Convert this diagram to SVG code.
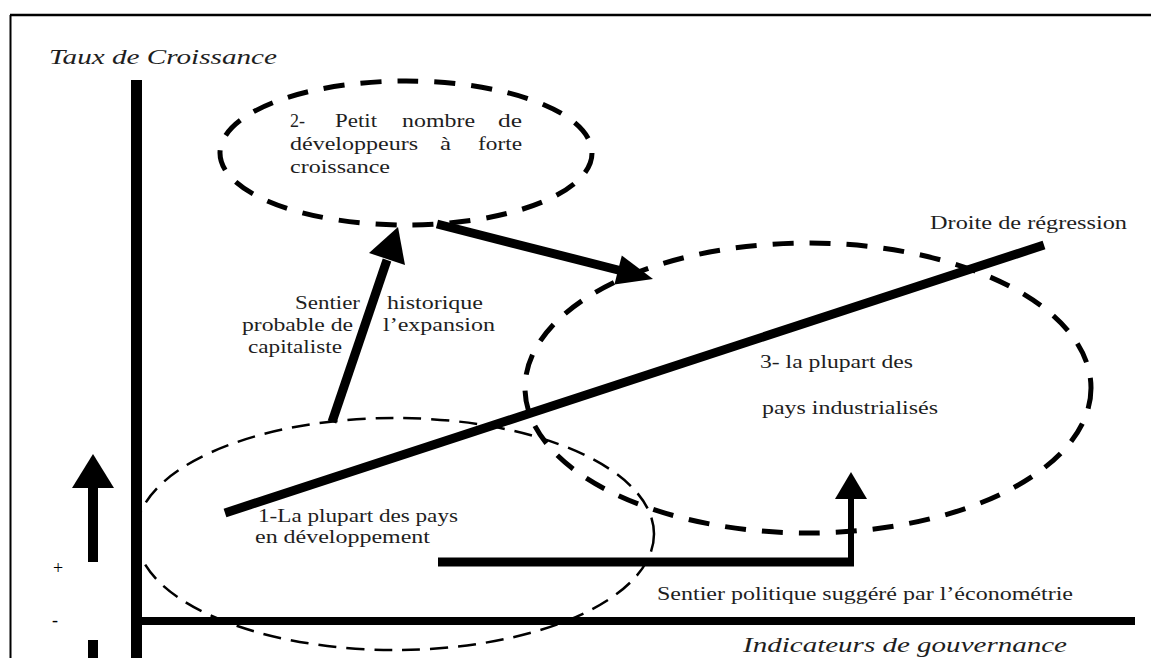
<svg xmlns="http://www.w3.org/2000/svg" width="1151" height="658" viewBox="0 0 1151 658">
<style>
.t{font-size:19px;fill:#1e1e1e}
.ti{font-size:21px;font-style:italic;fill:#1e1e1e}
.thick{fill:none;stroke:#000;stroke-width:5;stroke-dasharray:21 16}
.thin{fill:none;stroke:#000;stroke-width:2.5;stroke-dasharray:18 10}
.bar{stroke:#000;fill:none;stroke-linecap:butt}
.head{fill:#000}
</style>
<rect width="1151" height="658" fill="#fff"/>
<g font-family="Liberation Serif, DejaVu Serif, serif">
<g id="frame">
<line x1="10" y1="15" x2="1151" y2="15" stroke="#000" stroke-width="2.5"/>
<line x1="10.5" y1="15" x2="10.5" y2="658" stroke="#000" stroke-width="2"/>
</g>
<g id="axes">
<rect x="131" y="80" width="11" height="578" fill="#000"/>
<rect x="137" y="617" width="998" height="8" fill="#000"/>
<text class="ti" x="49" y="64" textLength="228" lengthAdjust="spacingAndGlyphs">Taux de Croissance</text>
<text class="ti" x="743" y="652" textLength="324" lengthAdjust="spacingAndGlyphs">Indicateurs de gouvernance</text>
</g>
<g id="scale">
<rect x="88" y="486" width="10" height="76" fill="#000"/>
<polygon class="head" points="93,454 114,488 72,488"/>
<rect x="88" y="640" width="10" height="18" fill="#000"/>
<text x="58" y="574" text-anchor="middle" font-size="18" fill="#000">+</text>
<text x="55" y="626" text-anchor="middle" font-size="18" fill="#000">-</text>
</g>
<g id="node1">
<ellipse class="thin" cx="395" cy="534" rx="259" ry="116"/>
<text class="t" x="258" y="522" textLength="200" lengthAdjust="spacingAndGlyphs">1-La plupart des pays</text>
<text class="t" x="255" y="543" textLength="175" lengthAdjust="spacingAndGlyphs">en développement</text>
</g>
<g id="node2">
<ellipse class="thick" cx="406" cy="153" rx="186" ry="72"/>
<text class="t" x="290" y="127" textLength="15" lengthAdjust="spacingAndGlyphs">2-</text>
<text class="t" x="335" y="127" textLength="42" lengthAdjust="spacingAndGlyphs">Petit</text>
<text class="t" x="402" y="127" textLength="73" lengthAdjust="spacingAndGlyphs">nombre</text>
<text class="t" x="498" y="127" textLength="24" lengthAdjust="spacingAndGlyphs">de</text>
<text class="t" x="290" y="150" textLength="128" lengthAdjust="spacingAndGlyphs">développeurs</text>
<text class="t" x="440" y="150" textLength="11" lengthAdjust="spacingAndGlyphs">à</text>
<text class="t" x="478" y="150" textLength="44" lengthAdjust="spacingAndGlyphs">forte</text>
<text class="t" x="290" y="173" textLength="100" lengthAdjust="spacingAndGlyphs">croissance</text>
</g>
<g id="node3">
<ellipse class="thick" cx="808" cy="388" rx="283" ry="145"/>
<text class="t" x="760" y="368" textLength="153" lengthAdjust="spacingAndGlyphs">3- la plupart des</text>
<text class="t" x="762" y="414" textLength="176" lengthAdjust="spacingAndGlyphs">pays industrialisés</text>
</g>
<g id="regression">
<line class="bar" x1="225" y1="513" x2="1044" y2="245" stroke-width="9"/>
<text class="t" x="930" y="229" textLength="197" lengthAdjust="spacingAndGlyphs">Droite de régression</text>
</g>
<g id="connectors">
<line class="bar" x1="332" y1="422" x2="387" y2="260" stroke-width="9"/>
<polygon class="head" points="398,227 405,265 369,253"/>
<line class="bar" x1="437" y1="224" x2="620" y2="270.5" stroke-width="9"/>
<polygon class="head" points="653,279 614.4,284.6 621.8,255.6"/>
<line class="bar" x1="438" y1="562" x2="854" y2="562" stroke-width="9"/>
<line class="bar" x1="851" y1="566" x2="851" y2="496" stroke-width="6"/>
<polygon class="head" points="851,472 867,499 835,499"/>
</g>
<g id="labels">
<text class="t" x="295" y="309" textLength="65" lengthAdjust="spacingAndGlyphs">Sentier</text>
<text class="t" x="387" y="309" textLength="96" lengthAdjust="spacingAndGlyphs">historique</text>
<text class="t" x="242" y="331" textLength="111" lengthAdjust="spacingAndGlyphs">probable de</text>
<text class="t" x="383" y="331" textLength="112" lengthAdjust="spacingAndGlyphs">l’expansion</text>
<text class="t" x="248" y="353" textLength="94" lengthAdjust="spacingAndGlyphs">capitaliste</text>
<text class="t" x="657" y="600" textLength="416" lengthAdjust="spacingAndGlyphs">Sentier politique suggéré par l’économétrie</text>
</g>
</g>
</svg>
